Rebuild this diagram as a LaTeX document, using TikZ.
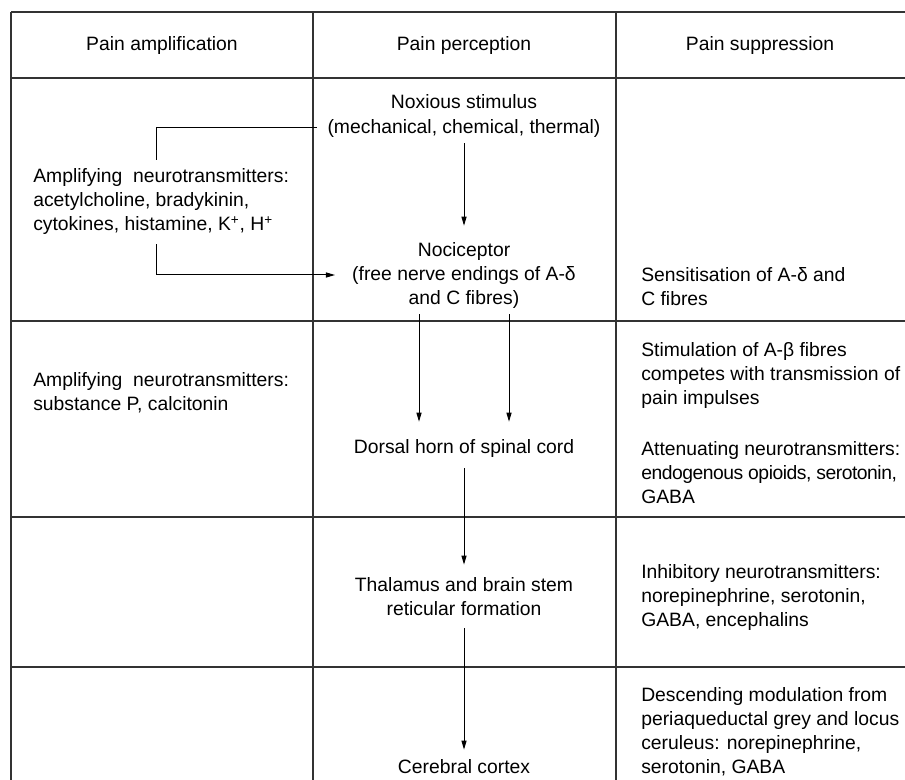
\documentclass[tikz,border=0pt]{standalone}
\usepackage{fontspec}
\setmainfont{Liberation Sans}
\usetikzlibrary{arrows.meta,calc}
\newlength\px \setlength\px{0.75pt}
\begin{document}
\begin{tikzpicture}[x=0.75pt,y=-0.75pt,
  txt/.style={font=\fontsize{14.5}{18}\selectfont, inner sep=0pt, align=left},
  ctr/.style={txt, align=center},
  gridline/.style={line width=0.85pt, draw=black!80},
  conn/.style={line width=0.75pt, draw=black},
  arr/.style={conn, -{Triangle[length=6.8pt,width=3.8pt]}}]
\fill[white] (0,0) rectangle (905,780);
\useasboundingbox (0,0) rectangle (905,780);
% table
\draw[gridline] (11,12) -- (905,12);
\draw[gridline] (11,78) -- (905,78);
\draw[gridline] (11,321) -- (905,321);
\draw[gridline] (11,517) -- (905,517);
\draw[gridline] (11,667) -- (905,667);
\draw[gridline] (11,12) -- (11,780);
\draw[gridline] (313,12) -- (313,780);
\draw[gridline] (616,12) -- (616,780);
% headers
\node[ctr] (h1) at (162,46) {Pain amplification};
\node[ctr] (h2) at (464,46) {Pain perception};
\node[ctr] (h3) at (760,46) {Pain suppression};
% row 1
\node[ctr] (nox) at (464,116) {Noxious stimulus\\(mechanical, chemical, thermal)};
\node[txt, anchor=west] (amp1) at (33,202) {Amplifying\ \ neurotransmitters:\\acetylcholine, bradykinin,\\cytokines, histamine, K\textsuperscript{+}, H\textsuperscript{+}};
\node[ctr] (noci) at (464,275) {Nociceptor\\(free nerve endings of A-δ\\and C fibres)};
\node[txt, anchor=west] (sens) at (641,287) {Sensitisation of A-δ and\\C fibres};
% row 2
\node[txt, anchor=west] (amp2) at (33,393) {Amplifying\ \ neurotransmitters:\\substance P, calcitonin};
\node[txt, anchor=west] (stim) at (641,375) {Stimulation of A-β fibres\\competes with transmission of\\pain impulses};
\node[ctr] (dors) at (464,448) {Dorsal horn of spinal cord};
\node[txt, anchor=west] (att) at (641,473) {Attenuating neurotransmitters:\\{\addfontfeature{LetterSpace=-2.5}endogenous opioids, serotonin,}\\GABA};
% row 3
\node[ctr] (thal) at (464,597) {Thalamus and brain stem\\reticular formation};
\node[txt, anchor=west] (inh) at (641,597) {Inhibitory neurotransmitters:\\norepinephrine, serotonin,\\GABA, encephalins};
% row 4
\node[ctr] (cort) at (464,767) {Cerebral cortex};
\node[txt, anchor=west] (desc) at (641,732) {Descending modulation from\\periaqueductal grey and locus\\ceruleus: norepinephrine,\\serotonin, GABA};
% connectors
\draw[arr, shorten <=6\px, shorten >=16\px] (nox.south) -- (noci.north);
\draw[arr, shorten <=6\px, shorten >=17\px] ([xshift=-45\px]noci.south) -- ([xshift=-45\px]dors.north);
\draw[arr, shorten <=6\px, shorten >=17\px] ([xshift=45\px]noci.south) -- ([xshift=45\px]dors.north);
\draw[arr, shorten <=11\px, shorten >=13\px] (dors.south) -- (thal.north);
\draw[arr, shorten <=12\px, shorten >=10\px] (thal.south) -- (cort.north);
\draw[conn] ([xshift=-5\px,yshift=9\px]amp1.north) |- ([xshift=-10\px,yshift=-12\px]nox.west);
\draw[arr] ([xshift=-5\px,yshift=-9\px]amp1.south) |- ([xshift=-17\px]noci.west);
\end{tikzpicture}
\end{document}
